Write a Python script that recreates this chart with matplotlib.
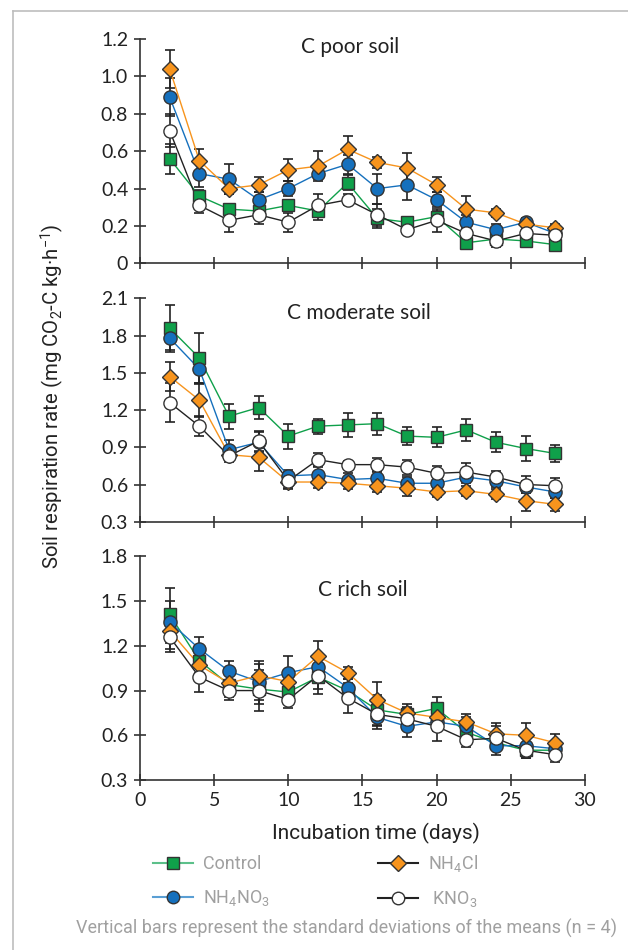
import numpy as np
import matplotlib
matplotlib.use("Agg")
import matplotlib.pyplot as plt
from matplotlib.lines import Line2D

days = [2, 4, 6, 8, 10, 12, 14, 16, 18, 20, 22, 24, 26, 28]

# C poor soil
poor_control = [0.56, 0.36, 0.29, 0.28, 0.31, 0.28, 0.43, 0.24, 0.22, 0.25, 0.11, 0.13, 0.12, 0.10]
poor_nh4cl = [1.04, 0.55, 0.40, 0.42, 0.50, 0.52, 0.61, 0.54, 0.51, 0.42, 0.29, 0.27, 0.21, 0.19]
poor_nh4no3 = [0.89, 0.48, 0.45, 0.34, 0.40, 0.48, 0.53, 0.40, 0.42, 0.34, 0.22, 0.18, 0.22, 0.16]
poor_kno3 = [0.71, 0.31, 0.23, 0.26, 0.22, 0.31, 0.34, 0.26, 0.18, 0.23, 0.16, 0.12, 0.16, 0.15]
poor_control_sd = [0.08, 0.03, 0.03, 0.03, 0.03, 0.05, 0.04, 0.05, 0.02, 0.03, 0.02, 0.02, 0.03, 0.03]
poor_nh4cl_sd = [0.10, 0.06, 0.03, 0.04, 0.06, 0.08, 0.07, 0.03, 0.08, 0.04, 0.07, 0.02, 0.02, 0.02]
poor_nh4no3_sd = [0.10, 0.07, 0.08, 0.04, 0.04, 0.03, 0.05, 0.08, 0.08, 0.04, 0.04, 0.03, 0.02, 0.02]
poor_kno3_sd = [0.09, 0.04, 0.06, 0.05, 0.05, 0.06, 0.03, 0.06, 0.02, 0.06, 0.03, 0.03, 0.02, 0.02]

# C moderate soil
mod_control = [1.86, 1.62, 1.15, 1.22, 0.99, 1.07, 1.08, 1.09, 0.99, 0.98, 1.04, 0.94, 0.89, 0.85]
mod_nh4cl = [1.47, 1.28, 0.84, 0.82, 0.62, 0.62, 0.61, 0.59, 0.57, 0.54, 0.55, 0.52, 0.47, 0.44]
mod_nh4no3 = [1.78, 1.53, 0.88, 0.94, 0.67, 0.68, 0.64, 0.65, 0.61, 0.61, 0.66, 0.63, 0.58, 0.54]
mod_kno3 = [1.26, 1.07, 0.83, 0.95, 0.63, 0.80, 0.76, 0.76, 0.74, 0.69, 0.70, 0.66, 0.60, 0.59]
mod_control_sd = [0.19, 0.20, 0.10, 0.09, 0.10, 0.06, 0.10, 0.09, 0.07, 0.08, 0.09, 0.08, 0.10, 0.07]
mod_nh4cl_sd = [0.12, 0.14, 0.04, 0.11, 0.05, 0.05, 0.05, 0.05, 0.06, 0.04, 0.04, 0.04, 0.08, 0.05]
mod_nh4no3_sd = [0.10, 0.12, 0.08, 0.08, 0.05, 0.06, 0.05, 0.05, 0.05, 0.05, 0.05, 0.05, 0.05, 0.05]
mod_kno3_sd = [0.16, 0.08, 0.05, 0.08, 0.07, 0.05, 0.03, 0.05, 0.06, 0.06, 0.07, 0.05, 0.07, 0.06]

# C rich soil
rich_control = [1.41, 1.10, 0.94, 0.91, 0.89, 0.99, 0.90, 0.77, 0.74, 0.78, 0.62, 0.55, 0.50, 0.50]
rich_nh4cl = [1.30, 1.07, 0.95, 1.00, 0.96, 1.13, 1.02, 0.84, 0.75, 0.72, 0.69, 0.61, 0.60, 0.55]
rich_nh4no3 = [1.36, 1.18, 1.03, 0.96, 1.02, 1.06, 0.92, 0.72, 0.66, 0.69, 0.66, 0.53, 0.53, 0.51]
rich_kno3 = [1.26, 0.99, 0.90, 0.90, 0.84, 1.00, 0.85, 0.74, 0.71, 0.66, 0.57, 0.58, 0.50, 0.47]
rich_control_sd = [0.18, 0.08, 0.08, 0.10, 0.08, 0.08, 0.08, 0.10, 0.05, 0.08, 0.04, 0.05, 0.05, 0.05]
rich_nh4cl_sd = [0.12, 0.08, 0.07, 0.10, 0.05, 0.10, 0.04, 0.12, 0.06, 0.05, 0.05, 0.07, 0.08, 0.06]
rich_nh4no3_sd = [0.14, 0.08, 0.07, 0.12, 0.11, 0.06, 0.08, 0.08, 0.07, 0.06, 0.06, 0.06, 0.06, 0.05]
rich_kno3_sd = [0.10, 0.10, 0.06, 0.14, 0.06, 0.12, 0.10, 0.08, 0.07, 0.10, 0.05, 0.08, 0.05, 0.05]

panel_titles = ["C poor soil", "C moderate soil", "C rich soil"]
treatments = ["Control", "NH$_\\mathregular{4}$NO$_\\mathregular{3}$",
              "NH$_\\mathregular{4}$Cl", " KNO$_\\mathregular{3}$"]

GREEN = "#0fa04a"
ORANGE = "#f7941d"
BLUE = "#1570bd"
EDGE = "#333333"
TXT = "#222222"
GREY = "#a0a0a0"

styles = [
    dict(marker="s", ms=8.5, mfc=GREEN, line=GREEN, leg_line="#5cc08a"),
    dict(marker="o", ms=9.5, mfc=BLUE, line=BLUE, leg_line="#5a9fd4"),
    dict(marker="D", ms=8.5, mfc=ORANGE, line=ORANGE, leg_line="#222222"),
    dict(marker="o", ms=9.5, mfc="white", line="#222222", leg_line="#222222"),
]

panels = [
    ([poor_control, poor_nh4no3, poor_nh4cl, poor_kno3],
     [poor_control_sd, poor_nh4no3_sd, poor_nh4cl_sd, poor_kno3_sd],
     (0, 1.2), np.arange(0, 1.21, 0.2), ["0", "0.2", "0.4", "0.6", "0.8", "1.0", "1.2"],
     (0.472, 0.966)),
    ([mod_control, mod_nh4no3, mod_nh4cl, mod_kno3],
     [mod_control_sd, mod_nh4no3_sd, mod_nh4cl_sd, mod_kno3_sd],
     (0.3, 2.1), np.arange(0.3, 2.11, 0.3), ["0.3", "0.6", "0.9", "1.2", "1.5", "1.8", "2.1"],
     (0.492, 0.934)),
    ([rich_control, rich_nh4no3, rich_nh4cl, rich_kno3],
     [rich_control_sd, rich_nh4no3_sd, rich_nh4cl_sd, rich_kno3_sd],
     (0.3, 1.8), np.arange(0.3, 1.81, 0.3), ["0.3", "0.6", "0.9", "1.2", "1.5", "1.8"],
     (0.501, 0.849)),
]

fig = plt.figure(figsize=(6.28, 9.5), dpi=100)
fig.patch.set_facecolor("white")

left, width = 0.2229, 0.7086
bottoms = [0.7228, 0.4508, 0.1789]
heights = [0.2361, 0.2352, 0.2355]

for i, (series, sds, ylim, yticks, ylabels, tpos) in enumerate(panels):
    ax = fig.add_axes([left, bottoms[i], width, heights[i]])
    for vals, sd, st in zip(series, sds, styles):
        ax.errorbar(days, vals, yerr=sd, fmt="none", ecolor="#222222",
                    elinewidth=1.2, capsize=3.5, capthick=1.2, zorder=2)
    for vals, st in zip(series, styles):
        ax.plot(days, vals, color=st["line"], lw=1.0, zorder=3)
    for vals, st in zip(series, styles):
        ax.plot(days, vals, ls="none", marker=st["marker"], ms=st["ms"],
                mfc=st["mfc"], mec=EDGE, mew=1.0, zorder=4, clip_on=False)

    ax.set_xlim(0, 30)
    ax.set_ylim(*ylim)
    ax.set_xticks(range(0, 31, 5))
    ax.set_yticks(yticks)
    ax.set_yticklabels(ylabels)
    if i < 2:
        ax.set_xticklabels([])
    for s in ["top", "right"]:
        ax.spines[s].set_visible(False)
    for s in ["left", "bottom"]:
        ax.spines[s].set_color(EDGE)
        ax.spines[s].set_linewidth(1.2)
    ax.tick_params(direction="inout", length=9, width=1.2, color=EDGE,
                   labelsize=14, labelcolor=TXT, pad=4)
    for lab in ax.get_xticklabels() + ax.get_yticklabels():
        lab.set_fontfamily("Lato")
    ax.text(tpos[0], tpos[1], panel_titles[i], transform=ax.transAxes,
            ha="center", va="center", fontsize=15, color=TXT, family="Lato")

fig.text(52 / 628, 1 - 396 / 950,
         "Soil respiration rate (mg CO$_\\mathregular{2}$-C kg·h$^\\mathregular{-1}$)",
         rotation=90, ha="center", va="center", fontsize=14.7, color=TXT,
         family="Roboto")
fig.text(376 / 628, 1 - 833 / 950, "Incubation time (days)", ha="center",
         va="center", fontsize=15, color=TXT, family="Roboto")

handles = [Line2D([], [], color=st["leg_line"], lw=1.5, marker=st["marker"],
                  ms=st["ms"] - 0.5, mfc=st["mfc"], mec=EDGE, mew=1.0)
           for st in styles]
leg = fig.legend(handles, treatments, ncol=2, loc="upper left",
                 bbox_to_anchor=(153 / 628, 1 - 853 / 950), frameon=False,
                 borderpad=0, borderaxespad=0,
                 handlelength=2.2, handletextpad=0.55, columnspacing=6.0,
                 labelspacing=0.85, prop={"family": "Roboto", "size": 13})
for t in leg.get_texts():
    t.set_color(GREY)

fig.text(346 / 628, 1 - 928 / 950,
         "Vertical bars represent the standard deviations of the means (n = 4)",
         ha="center", va="center", fontsize=13, color=GREY, family="Roboto")

# light frame along the left and top edges
fig.add_artist(Line2D([13 / 628, 13 / 628], [0, 1 - 11 / 950], color="#bdbdbd",
                      lw=1.2, transform=fig.transFigure))
fig.add_artist(Line2D([13 / 628, 1], [1 - 11 / 950, 1 - 11 / 950], color="#bdbdbd",
                      lw=1.2, transform=fig.transFigure))

fig.savefig("out.png", dpi=100)
